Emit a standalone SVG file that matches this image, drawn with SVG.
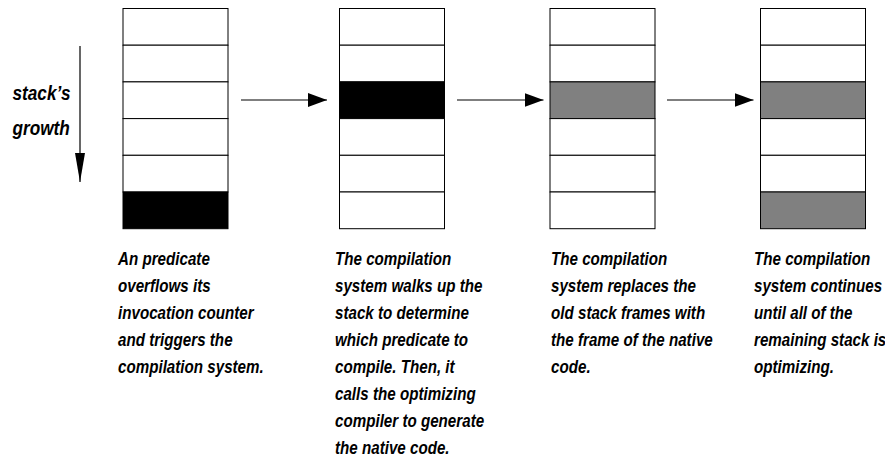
<svg xmlns="http://www.w3.org/2000/svg" width="885" height="461" viewBox="0 0 885 461">
<style>
.frame{fill:#fff;stroke:#000;stroke-width:1}
.blk{fill:#000;stroke:#000;stroke-width:1}
.gry{fill:#808080;stroke:#000;stroke-width:1}
.conn{stroke:#000;stroke-width:1.2;fill:none}
.lbl{font-family:"Liberation Sans",Arial,sans-serif;font-weight:bold;font-style:italic;font-size:18.5px;fill:#000}
.big{font-size:21px}
</style>
<defs>
<marker id="ah" markerUnits="userSpaceOnUse" markerWidth="20" markerHeight="16" viewBox="0 0 20 16" refX="19" refY="8" orient="auto">
<path d="M0,1 L19,8 L0,15 Z" fill="#000"/>
</marker>
<marker id="ahv" markerUnits="userSpaceOnUse" markerWidth="30" markerHeight="12" viewBox="0 0 30 12" refX="29" refY="6" orient="auto">
<path d="M0,1 L29,6 L0,11 Z" fill="#000"/>
</marker>
</defs>
<rect width="885" height="461" fill="#fff"/>

<g id="stack1">
<rect class="frame" x="123" y="8.5" width="105" height="36.7"/>
<rect class="frame" x="123" y="45.2" width="105" height="36.7"/>
<rect class="frame" x="123" y="81.9" width="105" height="36.7"/>
<rect class="frame" x="123" y="118.6" width="105" height="36.7"/>
<rect class="frame" x="123" y="155.3" width="105" height="36.7"/>
<rect class="blk" x="123" y="192" width="105" height="36.7"/>
</g>
<g id="stack2">
<rect class="frame" x="339.5" y="8.5" width="105" height="36.7"/>
<rect class="frame" x="339.5" y="45.2" width="105" height="36.7"/>
<rect class="blk" x="339.5" y="81.9" width="105" height="36.7"/>
<rect class="frame" x="339.5" y="118.6" width="105" height="36.7"/>
<rect class="frame" x="339.5" y="155.3" width="105" height="36.7"/>
<rect class="frame" x="339.5" y="192" width="105" height="36.7"/>
</g>
<g id="stack3">
<rect class="frame" x="550" y="8.5" width="105" height="36.7"/>
<rect class="frame" x="550" y="45.2" width="105" height="36.7"/>
<rect class="gry" x="550" y="81.9" width="105" height="36.7"/>
<rect class="frame" x="550" y="118.6" width="105" height="36.7"/>
<rect class="frame" x="550" y="155.3" width="105" height="36.7"/>
<rect class="frame" x="550" y="192" width="105" height="36.7"/>
</g>
<g id="stack4">
<rect class="frame" x="760.5" y="8.5" width="105" height="36.7"/>
<rect class="frame" x="760.5" y="45.2" width="105" height="36.7"/>
<rect class="gry" x="760.5" y="81.9" width="105" height="36.7"/>
<rect class="frame" x="760.5" y="118.6" width="105" height="36.7"/>
<rect class="frame" x="760.5" y="155.3" width="105" height="36.7"/>
<rect class="gry" x="760.5" y="192" width="105" height="36.7"/>
</g>

<g id="connectors">
<line class="conn" x1="241" y1="100" x2="327" y2="100" marker-end="url(#ah)"/>
<line class="conn" x1="457" y1="100" x2="543.5" y2="100" marker-end="url(#ah)"/>
<line class="conn" x1="667" y1="100" x2="753.5" y2="100" marker-end="url(#ah)"/>
<line class="conn" x1="80" y1="46" x2="80" y2="182" marker-end="url(#ahv)"/>
</g>

<g id="growth-label" transform="translate(12.5 0) scale(0.82 1)">
<text class="lbl big" x="0" y="100">stack’s</text>
<text class="lbl big" x="0" y="135">growth</text>
</g>

<g id="caption1" transform="translate(118 0) scale(0.82 1)">
<text class="lbl" x="0" y="265">An predicate</text>
<text class="lbl" x="0" y="292">overflows its</text>
<text class="lbl" x="0" y="319">invocation counter</text>
<text class="lbl" x="0" y="346">and triggers the</text>
<text class="lbl" x="0" y="373">compilation system.</text>
</g>
<g id="caption2" transform="translate(335 0) scale(0.82 1)">
<text class="lbl" x="0" y="265">The compilation</text>
<text class="lbl" x="0" y="292">system walks up the</text>
<text class="lbl" x="0" y="319">stack to determine</text>
<text class="lbl" x="0" y="346">which predicate to</text>
<text class="lbl" x="0" y="373">compile. Then, it</text>
<text class="lbl" x="0" y="400">calls the optimizing</text>
<text class="lbl" x="0" y="427">compiler to generate</text>
<text class="lbl" x="0" y="454">the native code.</text>
</g>
<g id="caption3" transform="translate(551 0) scale(0.82 1)">
<text class="lbl" x="0" y="265">The compilation</text>
<text class="lbl" x="0" y="292">system replaces the</text>
<text class="lbl" x="0" y="319">old stack frames with</text>
<text class="lbl" x="0" y="346">the frame of the native</text>
<text class="lbl" x="0" y="373">code.</text>
</g>
<g id="caption4" transform="translate(754 0) scale(0.82 1)">
<text class="lbl" x="0" y="265">The compilation</text>
<text class="lbl" x="0" y="292">system continues</text>
<text class="lbl" x="0" y="319">until all of the</text>
<text class="lbl" x="0" y="346">remaining stack is</text>
<text class="lbl" x="0" y="373">optimizing.</text>
</g>
</svg>
